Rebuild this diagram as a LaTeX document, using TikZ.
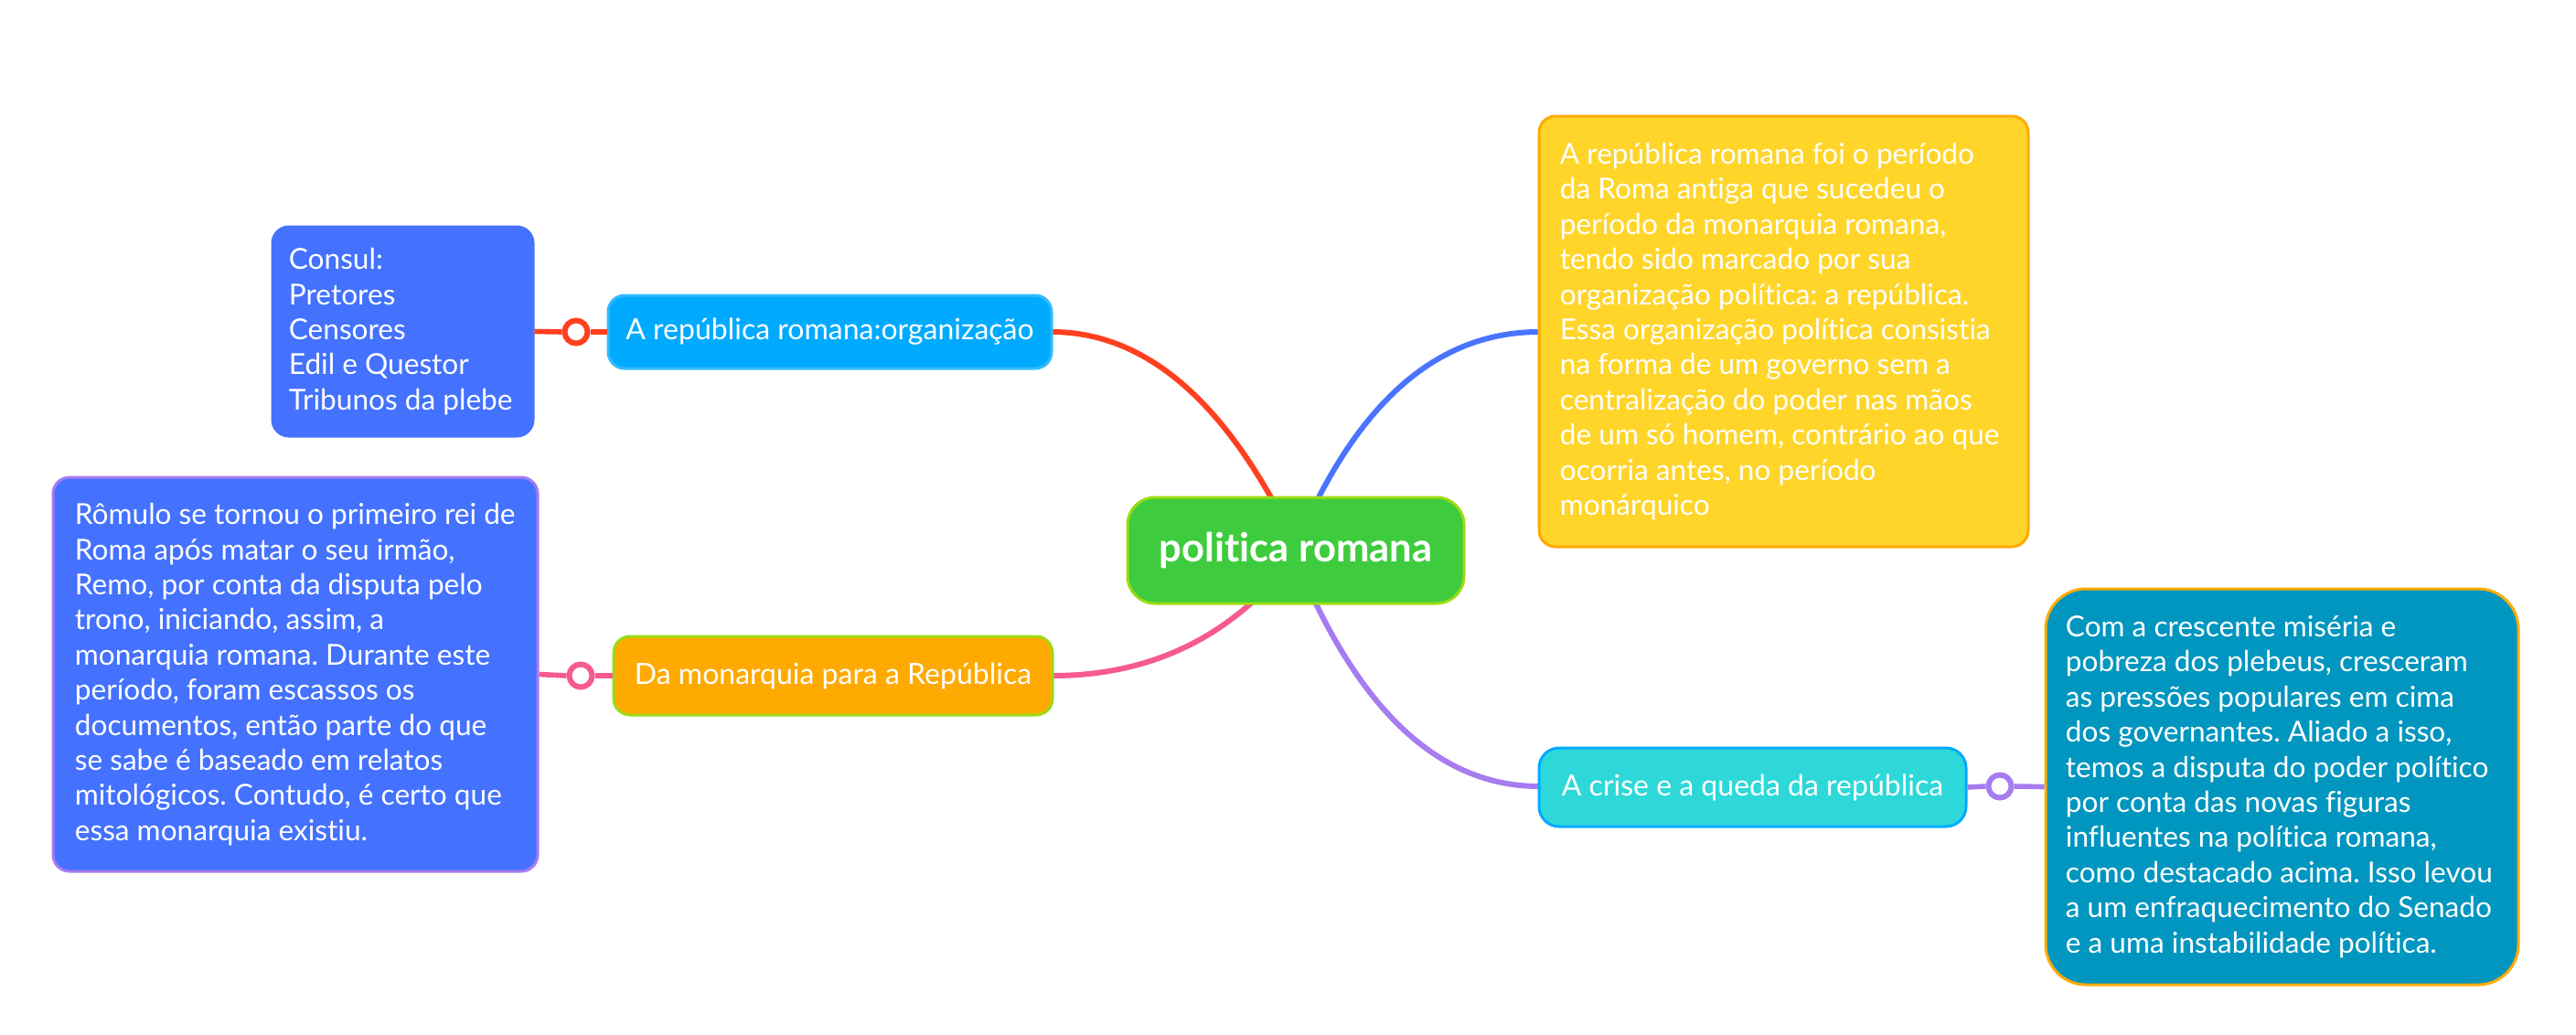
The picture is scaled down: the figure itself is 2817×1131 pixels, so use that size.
\documentclass[tikz,border=0pt]{standalone}
\usepackage{fontspec}
\setmainfont{Lato}[Ligatures=NoCommon]
\frenchspacing
\definecolor{cRed}{HTML}{FF4020}
\definecolor{cBlueLine}{HTML}{4A74FF}
\definecolor{cPink}{HTML}{F75A8C}
\definecolor{cPurple}{HTML}{A67CF0}
\definecolor{cGreen}{HTML}{3ECC3E}
\definecolor{cLime}{HTML}{9BDB14}
\definecolor{cSky}{HTML}{00AAFF}
\definecolor{cRoyal}{HTML}{4472FF}
\definecolor{cOrange}{HTML}{FFAA00}
\definecolor{cYellow}{HTML}{FFD52A}
\definecolor{cCyan}{HTML}{2ED8D8}
\definecolor{cTeal}{HTML}{0096BF}
\tikzset{
  x=0.5pt, y=-0.5pt,
  box/.style={rounded corners=9pt, line width=1.5pt, text=white, inner sep=0pt, align=center},
  lbl/.style={font=\fontsize{16}{19.2}\selectfont},
  ptext/.style={text=white, inner sep=0pt, align=left, anchor=west, font=\fontsize{15.8}{19.2}\selectfont},
  conn/.style={line width=3pt, line cap=round},
  sub/.style={line width=2.8pt},
  knob/.style={circle, fill=white, line width=3pt, minimum size=12.5pt, inner sep=0pt},
}
\begin{document}
\begin{tikzpicture}
\useasboundingbox (0,0) rectangle (2817,1131);
% connectors (drawn first)
\coordinate (cTop1) at (1391,546);
\coordinate (cTop2) at (1441,546);
\coordinate (cBot1) at (1370,658);
\coordinate (cBot2) at (1438,658);
\coordinate (orgE) at (1150,363);
\coordinate (yelW) at (1683,363);
\coordinate (monE) at (1151,739);
\coordinate (criW) at (1683,860);
\draw[conn, cRed] (orgE) .. controls (1241,363) and (1322,423) .. (cTop1);
\draw[conn, cBlueLine] (cTop2) .. controls (1504,423) and (1585,363) .. (yelW);
\draw[conn, cPink] (cBot1) .. controls (1310,712) and (1237,739) .. (monE);
\draw[conn, cPurple] (cBot2) .. controls (1503,793) and (1585,860) .. (criW);

% central
\node[box, draw=cLime, fill=cGreen, rounded corners=15pt, minimum width=184pt, minimum height=58pt,
  font=\fontsize{21.8}{24}\selectfont\bfseries] (center) at (1417,602) {politica romana};

% left top
\node[box, lbl, fill=cSky, draw=cSky!80!white, minimum width=242.5pt, minimum height=40pt] (org) at (907.5,363) {A república romana:organização};
\node[box, fill=cRoyal, draw=cRoyal, minimum width=142.5pt, minimum height=114.5pt] (consul) at (440.5,362.5) {};
\node[ptext] (consulT) at ([xshift=9.5pt]consul.west) {Consul:\\Pretores\\Censores\\Edil e Questor\\Tribunos da plebe};
\node[knob, draw=cRed] (k1) at (630,363) {};
\draw[sub, cRed] (consul.east) -- (k1.west);
\draw[sub, cRed] (k1.east) -- (org.west);

% left bottom
\node[box, lbl, fill=cOrange, draw=cLime, minimum width=240pt, minimum height=43pt] (mon) at (911,739) {Da monarquia para a República};
\node[box, fill=cRoyal, draw=cPurple, minimum width=265pt, minimum height=215.5pt] (rom) at (323,737.5) {};
\node[ptext] (romT) at ([xshift=12.5pt]rom.west)
  {Rômulo se tornou o primeiro rei de\\Roma após matar o seu irmão,\\Remo, por conta da disputa pelo\\trono, iniciando, assim, a\\monarquia romana. Durante este\\período, foram escassos os\\documentos, então parte do que\\se sabe é baseado em relatos\\mitológicos. Contudo, é certo que\\essa monarquia existiu.};
\node[knob, draw=cPink] (k2) at (635,739) {};
\draw[sub, cPink] (rom.east) -- (k2.west);
\draw[sub, cPink] (k2.east) -- (mon.west);

% right top
\node[box, fill=cYellow, draw=cOrange, minimum width=267.5pt, minimum height=235.5pt] (yel) at (1950.5,362.5) {};
\node[ptext] (yelT) at ([xshift=12pt]yel.west)
  {A república romana foi o período\\da Roma antiga que sucedeu o\\período da monarquia romana,\\tendo sido marcado por sua\\organização política: a república.\\Essa organização política consistia\\na forma de um governo sem a\\centralização do poder nas mãos\\de um só homem, contrário ao que\\ocorria antes, no período\\monárquico};

% right bottom
\node[box, lbl, fill=cCyan, draw=cSky, rounded corners=11pt, minimum width=233.5pt, minimum height=43pt] (cri) at (1916.5,861) {A crise e a queda da república};
\node[box, fill=cTeal, draw=cOrange, rounded corners=22pt, minimum width=258.5pt, minimum height=216.5pt] (teal) at (2495.5,860.5) {};
\node[ptext] (tealT) at ([xshift=11.5pt]teal.west)
  {Com a crescente miséria e\\pobreza dos plebeus, cresceram\\as pressões populares em cima\\dos governantes. Aliado a isso,\\temos a disputa do poder político\\por conta das novas figuras\\influentes na política romana,\\como destacado acima. Isso levou\\a um enfraquecimento do Senado\\e a uma instabilidade política.};
\node[knob, draw=cPurple] (k3) at (2187,860) {};
\draw[sub, cPurple] (cri.east) -- (k3.west);
\draw[sub, cPurple] (k3.east) -- (teal.west);
\end{tikzpicture}
\end{document}
